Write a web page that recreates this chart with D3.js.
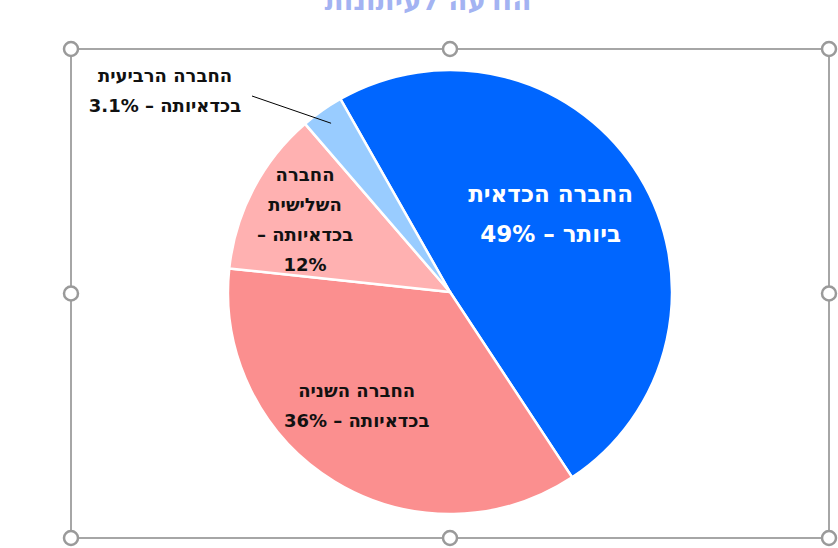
<!DOCTYPE html>
<html>
<head>
<meta charset="utf-8">
<script src="https://d3js.org/d3.v7.min.js"></script>
<style>
  body { margin: 0; background: #fff; }
  .lbl { font-family: "DejaVu Sans", "Liberation Sans", sans-serif; font-weight: bold; }
  .frame { fill: none; stroke: #a6a6a6; stroke-width: 2px; }
  .handle { fill: #fff; stroke: #9a9a9a; stroke-width: 2.5px; }
</style>
</head>
<body>
<svg id="chart" width="838" height="548"></svg>
<script>
// ---- data ----
const titleText = "הודעה לעיתונות";
const categories = ["החברה הכדאית ביותר", "החברה השניה בכדאיותה", "החברה השלישית בכדאיותה", "החברה הרביעית בכדאיותה"];
const values = [49, 36, 12, 3.1];
const sliceColors = ["#0066ff", "#fb8f8f", "#ffb1b1", "#99ccff"];
const labelLines = [
  ["החברה הכדאית", "ביותר – 49%"],
  ["החברה השניה", "בכדאיותה – 36%"],
  ["החברה", "השלישית", "בכדאיותה –", "12%"],
  ["החברה הרביעית", "בכדאיותה – 3.1%"]
];

const svg = d3.select("#chart");
const width = 838, height = 548;

// title sits above the visible area, only its lower part shows
svg.append("text").attr("class", "lbl")
   .attr("x", 428).attr("y", 10)
   .attr("text-anchor", "middle").attr("direction", "rtl")
   .style("font-size", "28px").style("fill", "#a3b3f2")
   .text(titleText);

// selection frame + handles
const box = { x0: 71, y0: 49, x1: 829, y1: 538 };
svg.append("rect").attr("class", "frame")
   .attr("x", box.x0).attr("y", box.y0)
   .attr("width", box.x1 - box.x0).attr("height", box.y1 - box.y0);

const hx = [box.x0, (box.x0 + box.x1) / 2, box.x1];
const hy = [box.y0, (box.y0 + box.y1) / 2, box.y1];
const handles = [];
hx.forEach((x, i) => hy.forEach((y, j) => { if (!(i === 1 && j === 1)) handles.push({ x, y }); }));
svg.selectAll("circle.handle").data(handles).join("circle").attr("class", "handle")
   .attr("cx", d => d.x).attr("cy", d => d.y).attr("r", 7);

// pie
const cx = 450, cy = 292, r = 222;
const start = -29.6 * Math.PI / 180;
const pie = d3.pie().sort(null).startAngle(start).endAngle(start + 2 * Math.PI);
const arcs = pie(values);
const arc = d3.arc().innerRadius(0).outerRadius(r);

const g = svg.append("g").attr("transform", `translate(${cx},${cy})`);
g.selectAll("path.slice").data(arcs).join("path").attr("class", "slice")
 .attr("d", arc)
 .attr("fill", (d, i) => sliceColors[i])
 .attr("stroke", "#fff").attr("stroke-width", 2.5)
 .attr("stroke-linejoin", "round");

// labels inside slices
const labelArc = d3.arc().innerRadius(r * 0.6).outerRadius(r * 0.6);
const nudge = [[-13, -8], [-24, 0], [-27, -10]];
const textColor = ["#fff", "#111", "#111"];
const fontSize = [23, 18, 18];
const lineGap = [40, 30, 30];

arcs.slice(0, 3).forEach((d, i) => {
  const [px, py] = labelArc.centroid(d);
  const lines = labelLines[i];
  const t = g.append("text").attr("class", "lbl")
    .attr("text-anchor", "middle").attr("direction", "rtl")
    .style("font-size", fontSize[i] + "px").style("fill", textColor[i]);
  lines.forEach((s, k) => {
    t.append("tspan")
     .attr("x", px + nudge[i][0])
     .attr("y", py + nudge[i][1] + (k - (lines.length - 1) / 2) * lineGap[i] + fontSize[i] * 0.35)
     .text(s);
  });
});

// outside label for the small slice with leader line
const small = arcs[3];
const mid = (small.startAngle + small.endAngle) / 2;
const p0 = [Math.sin(mid) * r * 0.93, -Math.cos(mid) * r * 0.93];
const lx = 165 - cx, ly = 76 - cy;
g.append("line")
 .attr("x1", p0[0]).attr("y1", p0[1])
 .attr("x2", 252 - cx).attr("y2", 96 - cy)
 .attr("stroke", "#000").attr("stroke-width", 1);
const t4 = g.append("text").attr("class", "lbl")
  .attr("text-anchor", "middle").attr("direction", "rtl")
  .style("font-size", "18px").style("fill", "#111");
labelLines[3].forEach((s, k) => {
  t4.append("tspan").attr("x", lx).attr("y", ly + 6 + k * 30).text(s);
});
</script>
</body>
</html>
